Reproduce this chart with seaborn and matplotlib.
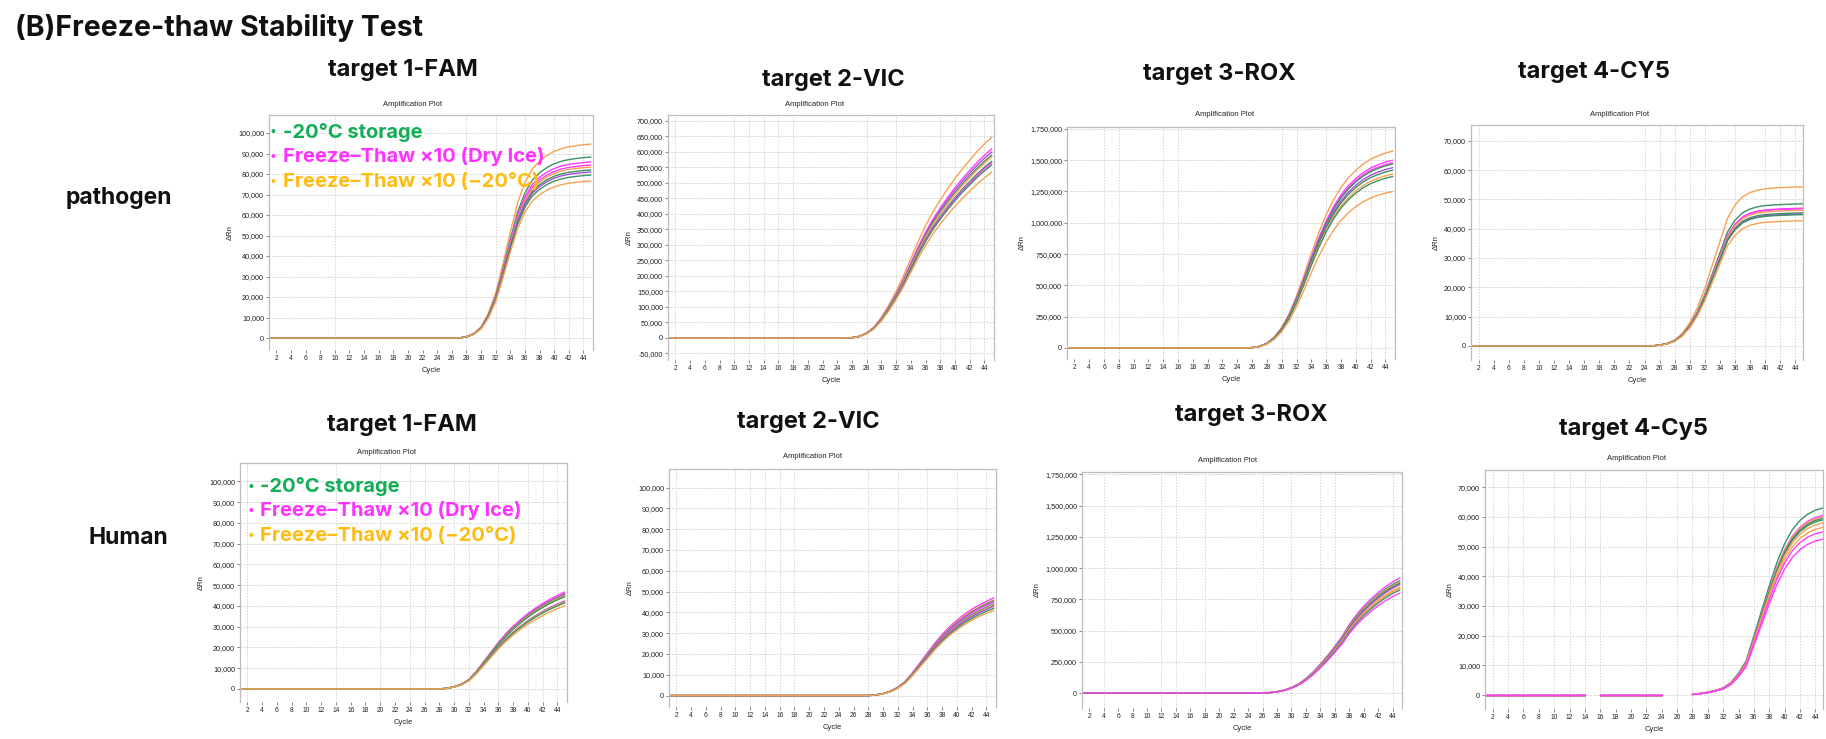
import numpy as np
import pandas as pd
import matplotlib
matplotlib.use("Agg")
import matplotlib.pyplot as plt
import seaborn as sns
from matplotlib.ticker import FuncFormatter

# ---------------- data ----------------
cycles = list(range(1, 46))
NA = float("nan")

# representative amplification curve (delta Rn per cycle) for each panel
base_fam_pathogen = [0, 0, 0, 0, 0, 0, 0, 0, 0, 0, 0, 0, 0, 0, 0, 0, 0, 0, 0, 0, 0, 0, 0, 0, 0, 0, 0,
                     600, 2000, 5000, 11000, 20000, 33000, 47000, 60000, 69000, 75000, 78500,
                     81000, 82800, 84000, 84800, 85300, 85700, 86000]
base_vic_pathogen = [0, 0, 0, 0, 0, 0, 0, 0, 0, 0, 0, 0, 0, 0, 0, 0, 0, 0, 0, 0, 0, 0, 0, 0, 0,
                     1000, 5000, 15000, 32000, 60000, 95000, 135000, 180000, 230000, 280000, 325000,
                     365000, 400000, 432000, 462000, 490000, 515000, 540000, 562000, 582000]
base_rox_pathogen = [0, 0, 0, 0, 0, 0, 0, 0, 0, 0, 0, 0, 0, 0, 0, 0, 0, 0, 0, 0, 0, 0, 0, 0, 0,
                     3000, 12000, 35000, 80000, 150000, 250000, 380000, 530000, 690000, 840000, 970000,
                     1080000, 1170000, 1240000, 1295000, 1340000, 1375000, 1400000, 1420000, 1435000]
base_cy5_pathogen = [0, 0, 0, 0, 0, 0, 0, 0, 0, 0, 0, 0, 0, 0, 0, 0, 0, 0, 0, 0, 0, 0, 0, 0, 0,
                     300, 800, 1800, 3800, 7000, 11500, 17500, 24500, 31500, 38500, 42500,
                     45000, 46300, 47000, 47400, 47600, 47750, 47850, 47950, 48000]
base_fam_human = [0, 0, 0, 0, 0, 0, 0, 0, 0, 0, 0, 0, 0, 0, 0, 0, 0, 0, 0, 0, 0, 0, 0, 0, 0, 0, 0, 0,
                  300, 1000, 2200, 4300, 8000, 12500, 17000, 21500, 25500, 29000, 32000,
                  34800, 37300, 39500, 41500, 43200, 44800]
base_vic_human = [0, 0, 0, 0, 0, 0, 0, 0, 0, 0, 0, 0, 0, 0, 0, 0, 0, 0, 0, 0, 0, 0, 0, 0, 0, 0, 0, 0,
                  300, 900, 2000, 3800, 6500, 10500, 15000, 19500, 24000, 28000, 31500,
                  34500, 37200, 39500, 41500, 43200, 44800]
base_rox_human = [0, 0, 0, 0, 0, 0, 0, 0, 0, 0, 0, 0, 0, 0, 0, 0, 0, 0, 0, 0, 0, 0, 0, 0, 0,
                  1000, 3000, 10000, 22000, 42000, 70000, 110000, 160000, 220000, 285000, 355000,
                  430000, 520000, 595000, 660000, 715000, 765000, 808000, 845000, 875000]
base_cy5_human = [0, 0, 0, 0, 0, 0, 0, 0, 0, 0, 0, 0, 0, 0, NA, 0, 0, 0, 0, 0, 0, 0, 0, 0, NA, NA, NA,
                  200, 500, 900, 1500, 2300, 4000, 7000, 11000, 19000, 27000, 35000,
                  42500, 48500, 53000, 56000, 58000, 59300, 60000]

# per-curve condition and final delta Rn (cycle 45) for each panel
grp_fam_pathogen = ["ft", "st", "dry", "dry", "ft", "st", "dryp", "st", "ft"]
end_fam_pathogen = [94600, 88300, 85900, 84400, 83400, 82000, 81000, 79500, 76600]
grp_vic_pathogen = ["ft", "dry", "dryp", "st", "ft", "st", "dry", "st", "ft"]
end_vic_pathogen = [648000, 610000, 600000, 590000, 584000, 570000, 565000, 558000, 535000]
grp_rox_pathogen = ["ft", "dry", "dry", "st", "dryp", "st", "ft", "st", "ft"]
end_rox_pathogen = [1573000, 1500000, 1480000, 1470000, 1440000, 1420000, 1390000, 1370000, 1250000]
grp_cy5_pathogen = ["ft", "st", "dry", "dry", "ft", "st", "dryp", "st", "ft"]
end_cy5_pathogen = [54300, 48500, 47000, 46800, 46300, 45400, 45000, 44800, 42700]
grp_fam_human = ["dry", "dry", "st", "ft", "st", "dryp", "ft", "st", "ft"]
end_fam_human = [46700, 46000, 45500, 45000, 44500, 42400, 42000, 41500, 40100]
grp_vic_human = ["dry", "ft", "st", "dry", "st", "ft", "dryp", "st", "ft"]
end_vic_human = [47000, 46000, 45500, 45000, 44000, 43500, 43000, 42000, 41000]
grp_rox_human = ["dry", "st", "ft", "st", "dryp", "ft", "ft", "st", "dry"]
end_rox_human = [921000, 900000, 890000, 880000, 870000, 850000, 840000, 825000, 800000]
grp_cy5_human = ["st", "dry", "ft", "st", "st", "ft", "ft", "dry", "dry"]
end_cy5_human = [63000, 60500, 60000, 59500, 59000, 58000, 56500, 55000, 52500]

titles_pathogen = ["target 1-FAM", "target 2-VIC", "target 3-ROX", "target 4-CY5"]
titles_human = ["target 1-FAM", "target 2-VIC", "target 3-ROX", "target 4-Cy5"]
row_labels = ["pathogen", "Human"]
legend_labels = ["-20°C storage", "Freeze–Thaw ×10 (Dry Ice)", "Freeze–Thaw ×10 (−20°C)"]
header = "(B)Freeze-thaw Stability Test"
x_ticks = list(range(2, 46, 2))

# ---------------- style ----------------
curve_colors = {"st": "#3d9163", "dry": "#ff3cff", "dryp": "#a350d8", "ft": "#f7a253"}
legend_colors = ["#12ad55", "#ff33ff", "#ffbc12"]

W, H = 1826, 739
sns.set_theme(style="white")
plt.rcParams['font.family'] = ['DejaVu Sans']
SMALL = ['Liberation Sans Narrow', 'Liberation Sans', 'DejaVu Sans']
BOLD = ['Inter', 'DejaVu Sans']

fig = plt.figure(figsize=(W / 100, H / 100), dpi=100)
fig.patch.set_facecolor("white")


def add_ax(L, T, R, B):
    return fig.add_axes([L / W, 1 - B / H, (R - L) / W, (B - T) / H])


def fx(x):
    return x / W


def fy(y):
    return 1 - y / H


panels = [
    dict(base=base_fam_pathogen, grp=grp_fam_pathogen, end=end_fam_pathogen,
         box=(269, 115, 593, 350), ylim=(-5850, 108800), yticks=range(0, 100001, 10000),
         xlim=(1.0, 45.3), vgrid=[10, 28, 32, 36, 40, 42, 44],
         title=titles_pathogen[0], txy=(403, 70), sxy=(413, 104)),
    dict(base=base_vic_pathogen, grp=grp_vic_pathogen, end=end_vic_pathogen,
         box=(668, 115, 994, 360), ylim=(-71000, 719000), yticks=range(-50000, 700001, 50000),
         xlim=(1.0, 45.3), vgrid=[2, 10, 12, 14, 16, 18, 28, 32, 38, 40, 42, 44],
         title=titles_pathogen[1], txy=(833, 80), sxy=(815, 105)),
    dict(base=base_rox_pathogen, grp=grp_rox_pathogen, end=end_rox_pathogen,
         box=(1067, 127, 1395, 359), ylim=(-88000, 1765000), yticks=range(0, 1750001, 250000),
         xlim=(1.0, 45.3), vgrid=[6, 8, 14, 16, 30, 32, 36, 40, 42, 44],
         title=titles_pathogen[2], txy=(1219, 74), sxy=(1225, 114)),
    dict(base=base_cy5_pathogen, grp=grp_cy5_pathogen, end=end_cy5_pathogen,
         box=(1471, 125, 1803, 360), ylim=(-4800, 75400), yticks=range(0, 70001, 10000),
         xlim=(1.0, 45.0), vgrid=[2, 24, 26, 28, 30, 32, 36, 40, 42, 44],
         title=titles_pathogen[3], txy=(1594, 72), sxy=(1620, 114)),
    dict(base=base_fam_human, grp=grp_fam_human, end=end_fam_human,
         box=(240, 463, 567, 702), ylim=(-6300, 108900), yticks=range(0, 100001, 10000),
         xlim=(1.0, 45.3), vgrid=[2, 14, 20, 24, 26, 30, 32, 36, 40, 42, 44],
         title=titles_human[0], txy=(402, 425), sxy=(387, 453)),
    dict(base=base_vic_human, grp=grp_vic_human, end=end_vic_human,
         box=(669, 469, 996, 707), ylim=(-5500, 108900), yticks=range(0, 100001, 10000),
         xlim=(1.0, 45.3), vgrid=[2, 10, 12, 14, 16, 18, 28, 32, 36, 40, 44],
         title=titles_human[1], txy=(808, 422), sxy=(813, 457)),
    dict(base=base_rox_human, grp=grp_rox_human, end=end_rox_human,
         box=(1082, 472, 1402, 708), ylim=(-120000, 1770000), yticks=range(0, 1750001, 250000),
         xlim=(1.0, 45.3), vgrid=[4, 12, 14, 18, 26, 30, 34, 36, 44],
         title=titles_human[2], txy=(1251, 415), sxy=(1228, 461)),
    dict(base=base_cy5_human, grp=grp_cy5_human, end=end_cy5_human,
         box=(1485, 470, 1823, 709), ylim=(-4700, 75800), yticks=range(0, 70001, 10000),
         xlim=(1.0, 45.0), vgrid=[2, 4, 6, 10, 12, 14, 16, 22, 26, 28, 30, 32, 36, 38, 40, 42, 44],
         title=titles_human[3], txy=(1633, 429), sxy=(1637, 459)),
]

yfmt = FuncFormatter(lambda v, p: f"{int(round(v)):,}")

for pn in panels:
    ax = add_ax(*pn["box"])
    base = np.array(pn["base"], dtype=float)
    top = np.nanmax(base)
    rows = []
    for i, (g, e) in enumerate(zip(pn["grp"], pn["end"])):
        seg = 0
        for c, b in zip(cycles, base):
            if np.isnan(b):
                seg += 1
                continue
            rows.append(dict(cycle=c, drn=b * e / top, curve=f"c{i}", unit=f"c{i}_{seg}"))
    df = pd.DataFrame(rows)
    pal = {f"c{i}": curve_colors[g] for i, g in enumerate(pn["grp"])}
    sns.lineplot(data=df, x="cycle", y="drn", hue="curve", units="unit", estimator=None,
                 palette=pal, legend=False, linewidth=1.0, ax=ax, sort=True)
    ax.set_xlim(*pn["xlim"])
    ax.set_ylim(*pn["ylim"])
    ax.set_yticks(list(pn["yticks"]))
    ax.set_xticks(x_ticks)
    ax.yaxis.set_major_formatter(yfmt)
    ax.grid(False)
    for yv in pn["yticks"]:
        ax.axhline(yv, color="#cfcfcf", lw=0.7, ls=(0, (1.5, 1.5)), zorder=0)
    for xv in pn["vgrid"]:
        ax.axvline(xv, color="#d4d4d4", lw=0.7, ls=(0, (1.5, 1.5)), zorder=0)
    for s in ax.spines.values():
        s.set_color("#bdbdbd")
        s.set_linewidth(0.9)
    ax.spines["bottom"].set_visible(False)
    ax.tick_params(axis="both", which="major", length=2, width=0.5, color="#555555",
                   labelsize=4.8, labelcolor="#222222", pad=1.5, labelfontfamily=SMALL,
                   bottom=True, left=True)
    ax.tick_params(axis="y", labelsize=5.2)
    ax.set_xlabel("Cycle", fontsize=5.5, family=SMALL, labelpad=4, color="#222222")
    ax.set_ylabel("ΔRn", fontsize=5.5, family=SMALL, labelpad=3, color="#222222")
    fig.text(fx(pn["txy"][0]), fy(pn["txy"][1]), pn["title"], ha="center", va="center",
             fontsize=17, fontweight="bold", family=BOLD, color="#111111")
    fig.text(fx(pn["sxy"][0]), fy(pn["sxy"][1]), "Amplification Plot", ha="center", va="center",
             fontsize=5.5, family=SMALL, color="#222222")

# header and row labels
fig.text(fx(15), fy(28), header, ha="left", va="center", fontsize=20.5, fontweight="bold",
         family=BOLD, color="#111111")
fig.text(fx(66), fy(198), row_labels[0], ha="left", va="center", fontsize=16.5,
         fontweight="bold", family=BOLD, color="#111111")
fig.text(fx(88), fy(538), row_labels[1], ha="left", va="center", fontsize=16.5,
         fontweight="bold", family=BOLD, color="#111111")

# in-panel legends
for bx, tx, ys in [(273, 283, (132, 157, 182)), (251, 260, (487, 511, 536))]:
    for lab, col, yy in zip(legend_labels, legend_colors, ys):
        fig.text(fx(bx), fy(yy), "•", ha="center", va="center", fontsize=9,
                 color=col, family=BOLD)
        fig.text(fx(tx), fy(yy), lab, ha="left", va="center", fontsize=14.5,
                 fontweight="bold", family=BOLD, color=col)

fig.savefig("out.png", dpi=100, facecolor="white")
